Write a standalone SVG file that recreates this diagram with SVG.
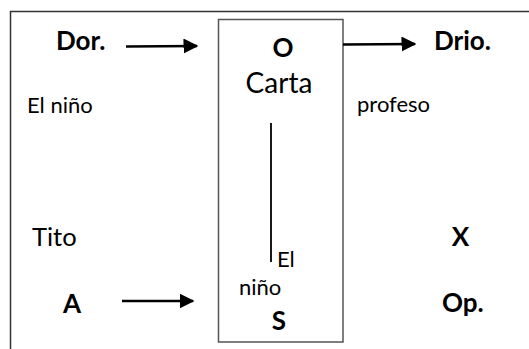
<svg xmlns="http://www.w3.org/2000/svg" width="529" height="349" viewBox="0 0 529 349">
<defs>
<style>
text{font-family:Lato,"Liberation Sans",sans-serif;fill:#000}
.b{font-weight:bold;font-size:26px}
.r{font-size:22px}
.big{font-size:28px}
.frame{fill:none;stroke:#333;stroke-width:1.5}
.box{fill:#fff;stroke:#555;stroke-width:1.5}
.conn{stroke:#000;stroke-width:2.5;fill:none}
</style>
<marker id="ah" viewBox="0 0 10 10" refX="9" refY="5" markerWidth="15" markerHeight="15" markerUnits="userSpaceOnUse" orient="auto">
<path d="M0,0L10,5L0,10z" fill="#000"/>
</marker>
</defs>
<rect width="529" height="349" fill="#fff"/>
<path class="frame" d="M10.5,349V11.5H529"/>
<g id="carta">
<rect class="box" x="218.5" y="19.5" width="124.5" height="322.5"/>
<text class="b" x="283" y="57" text-anchor="middle">O</text>
<text class="big" x="279" y="93" text-anchor="middle">Carta</text>
<text class="r" x="277" y="267">El</text>
<text class="r" x="239" y="295">niño</text>
<text class="b" x="279" y="330" text-anchor="middle">S</text>
</g>
<g id="dor"><text class="b" x="56" y="50">Dor.</text></g>
<g id="nino"><text class="r" x="27" y="113">El niño</text></g>
<g id="drio"><text class="b" x="434" y="50">Drio.</text></g>
<g id="profeso"><text class="r" x="357" y="112">profeso</text></g>
<g id="tito"><text style="font-size:25.5px" x="32" y="246">Tito</text></g>
<g id="a"><text class="b" x="72" y="313" text-anchor="middle">A</text></g>
<g id="x"><text class="b" x="460.5" y="246" text-anchor="middle">X</text></g>
<g id="op"><text class="b" x="442" y="312">Op.</text></g>
<g id="connectors">
<line class="conn" x1="126" y1="46.5" x2="197" y2="46" marker-end="url(#ah)"/>
<line class="conn" x1="343" y1="44.5" x2="415" y2="44" marker-end="url(#ah)"/>
<line class="conn" x1="122" y1="301" x2="193" y2="301" marker-end="url(#ah)"/>
<line x1="271" y1="123" x2="271" y2="262" stroke="#000" stroke-width="1.8"/>
</g>
</svg>
